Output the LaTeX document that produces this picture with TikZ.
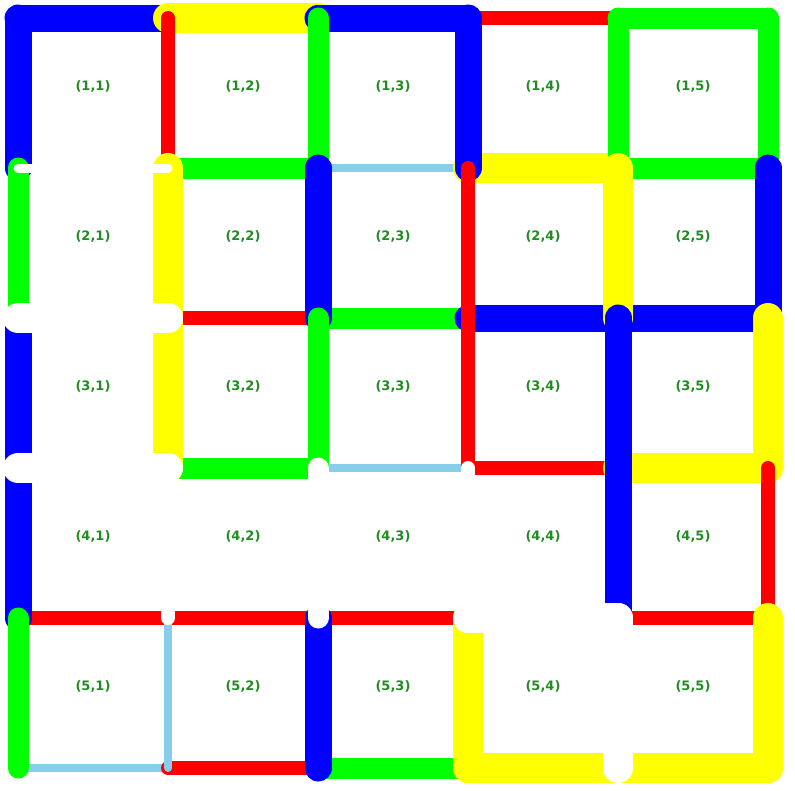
\documentclass[tikz,border=0pt]{standalone}
\usepackage{fontspec}
\newfontfamily\lblfont{DejaVu Sans}
\definecolor{cblue}{HTML}{0000FF}
\definecolor{cyellow}{HTML}{FFFF00}
\definecolor{cgreen}{HTML}{00FF00}
\definecolor{cred}{HTML}{FF0000}
\definecolor{clight}{HTML}{87CEEB}
\definecolor{lblgreen}{HTML}{228B22}
\begin{document}
\begin{tikzpicture}[x=1pt,y=-1pt,line cap=round,line join=round,
  eb/.style={draw=cblue,line width=27pt},
  ey/.style={draw=cyellow,line width=30pt},
  eg/.style={draw=cgreen,line width=21pt},
  er/.style={draw=cred,line width=14pt},
  el/.style={draw=clight,line width=8pt},
  wnine/.style={draw=white,line width=9pt},
  wfourteen/.style={draw=white,line width=14pt},
  wtwentyone/.style={draw=white,line width=21pt},
  wthirty/.style={draw=white,line width=30pt},
  lbl/.style={font=\lblfont\bfseries\fontsize{13}{15}\selectfont,text=lblgreen,inner sep=0pt}]
\useasboundingbox (0,0) rectangle (795,790);
\fill[white] (0,0) rectangle (795,790);
\foreach \r in {0,...,5}{\foreach \c in {0,...,5}{\coordinate (g\r\c) at ({18+150*\c},{18+150*\r});}}
% horizontal edges
\draw[eb] (g00)--(g01);
\draw[ey] (g01)--(g02);
\draw[eb] (g02)--(g03);
\draw[er] (g03)--(g04);
\draw[eg] (g04)--(g05);
\draw[eg] (g11)--(g12);
\draw[el] (g12)--(g13);
\draw[ey] (g13)--(g14);
\draw[eg] (g14)--(g15);
\draw[er] (g21)--(g22);
\draw[eg] (g22)--(g23);
\draw[eb] (g23)--(g24);
\draw[eb] (g24)--(g25);
\draw[eg] (g31)--(g32);
\draw[el] (g32)--(g33);
\draw[er] (g33)--(g34);
\draw[ey] (g34)--(g35);
\draw[er] (g40)--(g41);
\draw[er] (g41)--(g42);
\draw[er] (g42)--(g43);
\draw[er] (g44)--(g45);
\draw[el] (g50)--(g51);
\draw[er] (g51)--(g52);
\draw[eg] (g52)--(g53);
\draw[ey] (g53)--(g54);
\draw[ey] (g54)--(g55);
% vertical edges
\draw[eb] (g00)--(g10);
\draw[eg] (g10)--(g20);
\draw[eb] (g20)--(g30);
\draw[eb] (g30)--(g40);
\draw[eg] (g40)--(g50);
\draw[er] (g01)--(g11);
\draw[ey] (g11)--(g21);
\draw[ey] (g21)--(g31);
\draw[el] (g41)--(g51);
\draw[eg] (g02)--(g12);
\draw[eb] (g12)--(g22);
\draw[eg] (g22)--(g32);
\draw[eb] (g42)--(g52);
\draw[eb] (g03)--(g13);
\draw[er] (g13)--(g23);
\draw[er] (g23)--(g33);
\draw[ey] (g43)--(g53);
\draw[eg] (g04)--(g14);
\draw[ey] (g14)--(g24);
\draw[eb] (g24)--(g34);
\draw[eb] (g34)--(g44);
\draw[eg] (g05)--(g15);
\draw[eb] (g15)--(g25);
\draw[ey] (g25)--(g35);
\draw[er] (g35)--(g45);
\draw[ey] (g45)--(g55);
% white (erased) edges
\draw[wnine] (g10)--(g11);
\draw[wthirty] (g20)--(g21);
\draw[wthirty] (g30)--(g31);
\draw[wfourteen] (g31)--(g41);
\draw[wtwentyone] (g32)--(g42);
\draw[wfourteen] (g33)--(g43);
\draw[wthirty] (g43)--(g44);
\draw[wthirty] (g44)--(g54);
% labels
\foreach \r in {1,...,5}{\foreach \c in {1,...,5}{
  \node[lbl] (t\r\c) at ({93+150*(\c-1)},{86+150*(\r-1)}) {(\r,\c)};}}
\end{tikzpicture}
\end{document}
